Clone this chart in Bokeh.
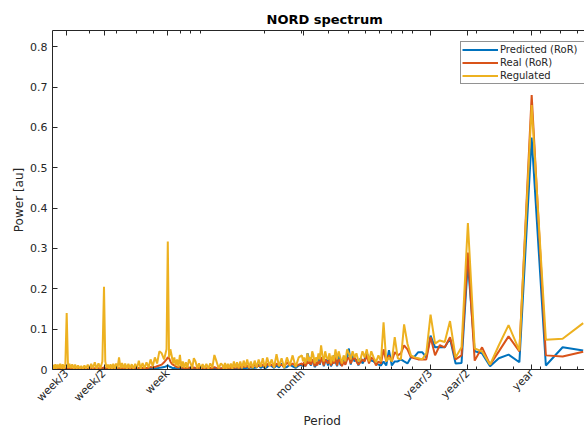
import math
from bokeh.plotting import figure
from bokeh.models import (FixedTicker, LogAxis, CustomJSTickFormatter, Legend,
                          LegendItem, Range1d, Title)
from bokeh.embed import file_html
from bokeh.resources import INLINE

# Spectrum of a 7-year daily record: period = record_days / harmonic
record_days = 2555
harmonic = (list(range(4, 86)) + list(range(88, 203, 3)) + list(range(205, 366, 5))
            + list(range(370, 731, 10)) + list(range(743, 1096, 16)) + list(range(1111, 1272, 16)))

regulated = [
    # k = 4..35
    0.115, 0.076, 0.074, 0.655, 0.047, 0.110, 0.060, 0.012, 0.045, 0.052, 0.363, 0.055, 0.030, 0.120, 0.068, 0.072,
    0.064, 0.136, 0.040, 0.025, 0.028, 0.030, 0.035, 0.064, 0.112, 0.025, 0.028, 0.080, 0.020, 0.030, 0.020, 0.117,
    # k = 36..85
    0.020, 0.035, 0.018, 0.030, 0.045, 0.020, 0.050, 0.030, 0.045, 0.025, 0.020, 0.040, 0.030, 0.045, 0.025, 0.040,
    0.050, 0.020, 0.035, 0.015, 0.030, 0.045, 0.025, 0.050, 0.020, 0.035, 0.015, 0.040, 0.025, 0.030, 0.045, 0.020,
    0.035, 0.060, 0.025, 0.040, 0.020, 0.030, 0.015, 0.035, 0.045, 0.020, 0.030, 0.020, 0.040, 0.025, 0.015, 0.030,
    0.020, 0.035,
    # k = 88..202 step 3
    0.030, 0.006, 0.035, 0.010, 0.030, 0.004, 0.028, 0.008, 0.038, 0.005, 0.025, 0.009, 0.030, 0.004, 0.028, 0.007,
    0.025, 0.005, 0.022, 0.003, 0.020, 0.004, 0.025, 0.006, 0.022, 0.003, 0.020, 0.003, 0.018, 0.004, 0.020, 0.002,
    0.015, 0.003, 0.014, 0.002, 0.016, 0.002, 0.012,
    # k = 205..365 step 5
    0.015, 0.003, 0.020, 0.036, 0.004, 0.015, 0.002, 0.014, 0.003, 0.013, 0.002, 0.015, 0.003, 0.020, 0.028, 0.003,
    0.016, 0.025, 0.004, 0.018, 0.004, 0.020, 0.005, 0.036, 0.006, 0.025, 0.010, 0.030, 0.015, 0.035, 0.050, 0.030,
    0.317,
    # k = 370..730 step 10
    0.050, 0.025, 0.040, 0.045, 0.015, 0.030, 0.008, 0.025, 0.005, 0.018, 0.003, 0.016, 0.002, 0.022, 0.003, 0.014,
    0.002, 0.013, 0.003, 0.014, 0.002, 0.015, 0.003, 0.016, 0.003, 0.030, 0.003, 0.015, 0.002, 0.014, 0.002, 0.013,
    0.002, 0.012, 0.004, 0.020, 0.205,
    # k = 743..1095 step 16
    0.020, 0.003, 0.015, 0.002, 0.018, 0.003, 0.014, 0.002, 0.012, 0.002, 0.010, 0.001, 0.009, 0.002, 0.010, 0.002,
    0.012, 0.002, 0.013, 0.003, 0.014, 0.004, 0.140,
    # k = 1111..1271 step 16
    0.012, 0.002, 0.013, 0.002, 0.014, 0.003, 0.012, 0.002, 0.013, 0.002, 0.012,
]

real = [
    0.044, 0.032, 0.035, 0.680, 0.045, 0.082, 0.045, 0.012, 0.055, 0.022, 0.290, 0.035, 0.025, 0.080, 0.055, 0.060,
    0.035, 0.080, 0.025, 0.025, 0.025, 0.028, 0.030, 0.050, 0.060, 0.040, 0.035, 0.043, 0.020, 0.035, 0.020, 0.050,
    0.015, 0.020, 0.010, 0.025, 0.030, 0.015, 0.035, 0.020, 0.025, 0.018, 0.012, 0.020, 0.030, 0.025, 0.015, 0.030,
    0.025, 0.012, 0.020, 0.008, 0.020, 0.025, 0.010, 0.030, 0.015, 0.020, 0.010, 0.025, 0.015, 0.020, 0.025, 0.010,
    0.020, 0.030, 0.015, 0.020, 0.010, 0.018, 0.008, 0.020, 0.025, 0.012, 0.020, 0.015, 0.020, 0.012, 0.008, 0.018,
    0.010, 0.015,
    0.012, 0.008, 0.015, 0.010, 0.018, 0.006, 0.012, 0.010, 0.015, 0.006, 0.012, 0.010, 0.014, 0.005, 0.012, 0.008,
    0.010, 0.006, 0.012, 0.005, 0.008, 0.004, 0.010, 0.006, 0.008, 0.004, 0.007, 0.003, 0.006, 0.004, 0.005, 0.003,
    0.004, 0.002, 0.004, 0.003, 0.004, 0.002, 0.003,
    0.003, 0.002, 0.004, 0.006, 0.003, 0.004, 0.002, 0.003, 0.002, 0.003, 0.002, 0.004, 0.003, 0.004, 0.005, 0.003,
    0.004, 0.005, 0.003, 0.004, 0.003, 0.005, 0.004, 0.008, 0.005, 0.006, 0.008, 0.010, 0.012, 0.015, 0.020, 0.028,
    0.030,
    0.025, 0.018, 0.012, 0.010, 0.008, 0.006, 0.005, 0.006, 0.004, 0.004, 0.003, 0.004, 0.003, 0.004, 0.003, 0.003,
    0.002, 0.003, 0.002, 0.003, 0.002, 0.003, 0.003, 0.003, 0.002, 0.004, 0.003, 0.003, 0.002, 0.003, 0.002, 0.003,
    0.002, 0.003, 0.003, 0.004, 0.005,
    0.004, 0.003, 0.003, 0.002, 0.003, 0.002, 0.003, 0.002, 0.002, 0.002, 0.002, 0.001, 0.002, 0.001, 0.002, 0.002,
    0.002, 0.002, 0.002, 0.002, 0.003, 0.002, 0.004,
    0.002, 0.002, 0.002, 0.002, 0.002, 0.002, 0.002, 0.002, 0.002, 0.002, 0.002,
]

predicted = [
    0.047, 0.055, 0.010, 0.575, 0.018, 0.037, 0.028, 0.008, 0.040, 0.045, 0.265, 0.016, 0.015, 0.077, 0.055, 0.056,
    0.055, 0.084, 0.030, 0.043, 0.043, 0.032, 0.030, 0.015, 0.020, 0.025, 0.020, 0.020, 0.010, 0.048, 0.010, 0.020,
    0.010, 0.012, 0.015, 0.020, 0.022, 0.030, 0.040, 0.025, 0.015, 0.028, 0.010, 0.025, 0.020, 0.035, 0.012, 0.052,
    0.030, 0.015, 0.030, 0.010, 0.012, 0.035, 0.008, 0.020, 0.035, 0.015, 0.008, 0.030, 0.010, 0.025, 0.020, 0.008,
    0.030, 0.025, 0.012, 0.030, 0.015, 0.010, 0.006, 0.025, 0.020, 0.010, 0.015, 0.030, 0.040, 0.015, 0.008, 0.012,
    0.008, 0.012,
    0.010, 0.004, 0.008, 0.012, 0.006, 0.004, 0.015, 0.005, 0.010, 0.004, 0.008, 0.014, 0.006, 0.003, 0.008, 0.004,
    0.012, 0.005, 0.004, 0.003, 0.006, 0.003, 0.005, 0.003, 0.004, 0.002, 0.003, 0.002, 0.003, 0.002, 0.003, 0.002,
    0.002, 0.001, 0.002, 0.002, 0.002, 0.001, 0.002,
    0.002, 0.001, 0.002, 0.003, 0.002, 0.002, 0.001, 0.002, 0.001, 0.002, 0.001, 0.002, 0.001, 0.002, 0.002, 0.001,
    0.002, 0.002, 0.001, 0.002, 0.001, 0.002, 0.002, 0.003, 0.002, 0.002, 0.003, 0.004, 0.003, 0.005, 0.006, 0.008,
    0.010,
    0.008, 0.006, 0.005, 0.004, 0.003, 0.003, 0.002, 0.002, 0.002, 0.002, 0.001, 0.002, 0.001, 0.002, 0.001, 0.001,
    0.001, 0.001, 0.001, 0.001, 0.001, 0.001, 0.001, 0.001, 0.001, 0.002, 0.001, 0.001, 0.001, 0.001, 0.001, 0.001,
    0.001, 0.001, 0.001, 0.002, 0.002,
    0.002, 0.001, 0.001, 0.001, 0.001, 0.001, 0.001, 0.001, 0.001, 0.001, 0.001, 0.001, 0.001, 0.001, 0.001, 0.001,
    0.001, 0.001, 0.001, 0.001, 0.001, 0.001, 0.002,
    0.001, 0.001, 0.001, 0.001, 0.001, 0.001, 0.001, 0.001, 0.001, 0.001, 0.001,
]

tick_days = [7 / 3, 7 / 2, 7, 30.4375, 365 / 3, 365 / 2, 365]
tick_labels = ["week/3", "week/2", "week", "month", "year/3", "year/2", "year"]
minor_days = [3, 4, 5, 6, 8, 9, 10, 20, 30, 40, 50, 60, 70, 80, 90, 100, 200, 300, 400, 500, 600]
y_ticks = [0, 0.1, 0.2, 0.3, 0.4, 0.5, 0.6, 0.7, 0.8]

period = [record_days / k for k in harmonic]

FONT = "DejaVu Sans"
AX = "#262626"

p = figure(width=584, height=427, x_axis_type="log",
           x_range=Range1d(2.0, 648.0), y_range=Range1d(0, 0.84),
           output_backend="svg", toolbar_location=None,
           min_border_left=52, min_border_right=0, min_border_top=30, min_border_bottom=58,
           background_fill_color="white", border_fill_color="white")
p.outline_line_color = None
p.xgrid.visible = False
p.ygrid.visible = False

r1 = p.line(period, predicted, line_color="#0072BD", line_width=2)
r2 = p.line(period, real, line_color="#D95319", line_width=2)
r3 = p.line(period, regulated, line_color="#EDB120", line_width=2)

xfmt = CustomJSTickFormatter(args=dict(days=tick_days, labels=tick_labels), code="""
for (let i = 0; i < days.length; i++) {
  if (Math.abs(tick / days[i] - 1) < 1e-6) return labels[i];
}
return "";
""")

def style_x(ax):
    ax.ticker = FixedTicker(ticks=tick_days, minor_ticks=minor_days)
    ax.axis_line_color = AX
    ax.major_tick_line_color = AX
    ax.minor_tick_line_color = AX
    ax.major_tick_in = 5
    ax.major_tick_out = 0
    ax.minor_tick_in = 3
    ax.minor_tick_out = 0

xa = p.xaxis[0]
style_x(xa)
xa.formatter = xfmt
xa.major_label_orientation = math.pi / 4
xa.major_label_text_font = FONT
xa.major_label_text_font_size = "11px"
xa.major_label_text_color = AX
xa.major_label_standoff = 2

# x-axis title as a title panel below the axis
p.add_layout(Title(text="Period", align="left", offset=251, standoff=0,
                   text_font=FONT, text_font_size="12px", text_font_style="normal",
                   text_color=AX), "below")

top = LogAxis()
style_x(top)
top.formatter = CustomJSTickFormatter(code="return '';")
top.major_label_text_font_size = "0px"
top.major_label_standoff = 0
p.add_layout(top, "above")

ya = p.yaxis[0]
ya.ticker = FixedTicker(ticks=y_ticks)
ya.formatter = CustomJSTickFormatter(code="return tick.toFixed(1).replace(/\\.0$/, '');")
ya.axis_line_color = AX
ya.major_tick_line_color = AX
ya.major_tick_in = 5
ya.major_tick_out = 0
ya.minor_tick_line_color = None
ya.major_label_text_font = FONT
ya.major_label_text_font_size = "11px"
ya.major_label_text_color = AX
ya.major_label_standoff = 5
ya.axis_label = "Power [au]"
ya.axis_label_text_font = FONT
ya.axis_label_text_font_size = "12px"
ya.axis_label_text_font_style = "normal"
ya.axis_label_text_color = AX
ya.axis_label_standoff = 1

p.title.text = "NORD spectrum"
p.title.text_font = FONT
p.title.text_font_size = "13px"
p.title.text_font_style = "bold"
p.title.text_color = "black"
p.title.align = "left"
p.title.offset = 214
p.title.standoff = 7

legend = Legend(items=[
    LegendItem(label="Predicted (RoR)", renderers=[r1]),
    LegendItem(label="Real (RoR)", renderers=[r2]),
    LegendItem(label="Regulated", renderers=[r3]),
], location=(408, 285))
legend.label_text_font = FONT
legend.label_text_font_size = "10px"
legend.label_text_color = AX
legend.glyph_width = 36
legend.glyph_height = 13
legend.label_height = 13
legend.label_width = 92
legend.label_standoff = 2
legend.padding = 1
legend.spacing = 0
legend.margin = 0
legend.border_line_color = AX
legend.border_line_width = 1
legend.background_fill_alpha = 1
p.add_layout(legend)

open("out.html", "w").write(file_html(p, INLINE))
